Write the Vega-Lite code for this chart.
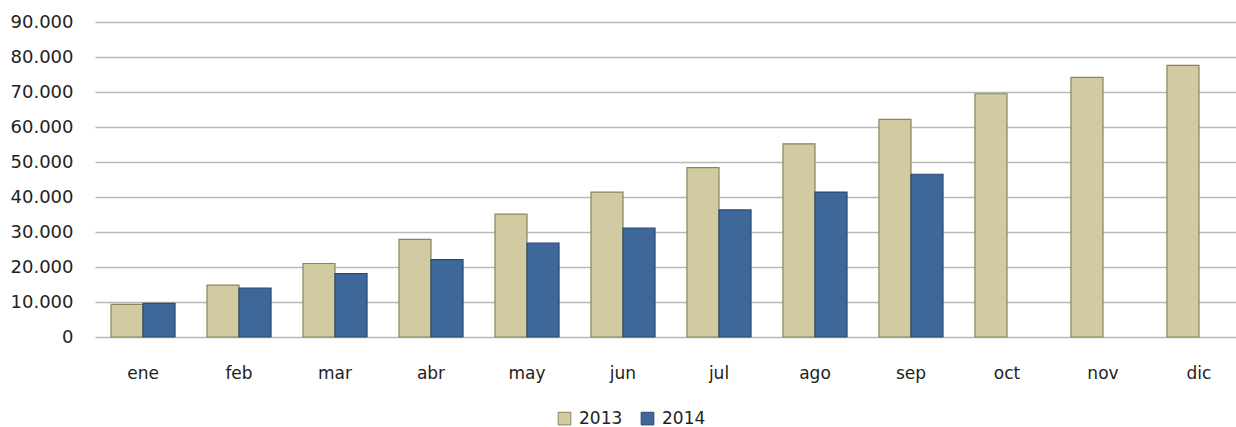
{
  "$schema": "https://vega.github.io/schema/vega-lite/v6.json",
  "autosize": "none",
  "width": 1152,
  "height": 315,
  "padding": {"left": 95, "top": 22, "right": 0, "bottom": 90},
  "background": "white",
  "config": {
    "view": {"stroke": null},
    "font": "DejaVu Sans"
  },
  "data": {
    "values": [
      {"mes": "ene", "anio": "2013", "valor": 9300},
      {"mes": "ene", "anio": "2014", "valor": 9600},
      {"mes": "feb", "anio": "2013", "valor": 14800},
      {"mes": "feb", "anio": "2014", "valor": 14000},
      {"mes": "mar", "anio": "2013", "valor": 21000},
      {"mes": "mar", "anio": "2014", "valor": 18100},
      {"mes": "abr", "anio": "2013", "valor": 27900},
      {"mes": "abr", "anio": "2014", "valor": 22100},
      {"mes": "may", "anio": "2013", "valor": 35100},
      {"mes": "may", "anio": "2014", "valor": 26800},
      {"mes": "jun", "anio": "2013", "valor": 41400},
      {"mes": "jun", "anio": "2014", "valor": 31100},
      {"mes": "jul", "anio": "2013", "valor": 48400},
      {"mes": "jul", "anio": "2014", "valor": 36300},
      {"mes": "ago", "anio": "2013", "valor": 55200},
      {"mes": "ago", "anio": "2014", "valor": 41400},
      {"mes": "sep", "anio": "2013", "valor": 62200},
      {"mes": "sep", "anio": "2014", "valor": 46500},
      {"mes": "oct", "anio": "2013", "valor": 69500},
      {"mes": "nov", "anio": "2013", "valor": 74200},
      {"mes": "dic", "anio": "2013", "valor": 77600}
    ]
  },
  "mark": {"type": "bar", "strokeWidth": 1.2},
  "encoding": {
    "x": {
      "field": "mes",
      "type": "nominal",
      "sort": ["ene", "feb", "mar", "abr", "may", "jun", "jul", "ago", "sep", "oct", "nov", "dic"],
      "scale": {"paddingInner": 0.333, "paddingOuter": 0.1667},
      "axis": {
        "title": null,
        "labelAngle": 0,
        "ticks": false,
        "domain": false,
        "labelFontSize": 17,
        "labelColor": "#222222",
        "labelPadding": 28
      }
    },
    "xOffset": {
      "field": "anio",
      "type": "nominal",
      "scale": {"domain": ["2013", "2014"], "paddingInner": 0, "paddingOuter": 0}
    },
    "y": {
      "field": "valor",
      "type": "quantitative",
      "scale": {"domain": [0, 90000], "nice": false},
      "axis": {
        "title": null,
        "values": [0, 10000, 20000, 30000, 40000, 50000, 60000, 70000, 80000, 90000],
        "labelExpr": "replace(format(datum.value, ','), ',', '.')",
        "ticks": false,
        "domain": false,
        "labelFontSize": 18,
        "labelColor": "#222222",
        "labelPadding": 22,
        "gridColor": "#B8B8B8",
        "gridWidth": 1.3
      }
    },
    "color": {
      "field": "anio",
      "type": "nominal",
      "scale": {"domain": ["2013", "2014"], "range": ["#D2CAA0", "#3D6899"]},
      "legend": {
        "title": null,
        "orient": "none",
        "direction": "horizontal",
        "legendX": 461,
        "legendY": 388,
        "symbolType": "square",
        "symbolSize": 160,
        "symbolStrokeWidth": 1,
        "labelFontSize": 17,
        "labelColor": "#222222",
        "columnPadding": 16,
        "labelOffset": 6
      }
    },
    "stroke": {
      "field": "anio",
      "type": "nominal",
      "scale": {"domain": ["2013", "2014"], "range": ["#8A8458", "#2A4A72"]},
      "legend": null
    }
  }
}
